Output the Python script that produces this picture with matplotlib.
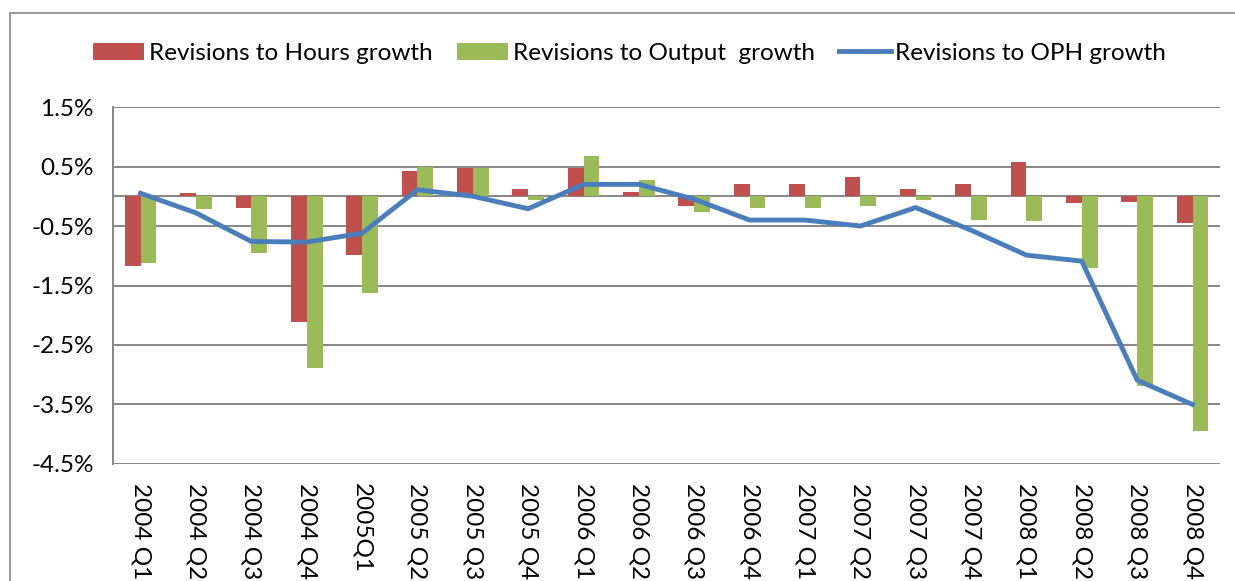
"""
Revisiones al crecimiento de horas, output y OPH (2004-2008).
"""
import matplotlib
matplotlib.use('Agg')
import matplotlib.pyplot as plt
import matplotlib.patches as patches
import numpy as np

# Datos (en %)
quarters = ['2004 Q1', '2004 Q2', '2004 Q3', '2004 Q4', '2005Q1',
            '2005 Q2', '2005 Q3', '2005 Q4', '2006 Q1', '2006 Q2',
            '2006 Q3', '2006 Q4', '2007 Q1', '2007 Q2', '2007 Q3',
            '2007 Q4', '2008 Q1', '2008 Q2', '2008 Q3', '2008 Q4']
hours_rev = [-1.17, 0.05, -0.20, -2.11, -0.99, 0.42, 0.48, 0.12, 0.48, 0.07,
             -0.17, 0.21, 0.20, 0.33, 0.12, 0.20, 0.58, -0.11, -0.10, -0.45]
output_rev = [-1.13, -0.21, -0.95, -2.88, -1.62, 0.50, 0.48, -0.07, 0.68, 0.27,
              -0.27, -0.19, -0.19, -0.16, -0.07, -0.40, -0.41, -1.20, -3.19, -3.94]
oph_rev = [0.05, -0.28, -0.76, -0.77, -0.62, 0.11, 0.00, -0.21, 0.20, 0.20,
           -0.05, -0.40, -0.40, -0.50, -0.19, -0.57, -0.99, -1.09, -3.09, -3.50]
y_ticks = [1.5, 0.5, -0.5, -1.5, -2.5, -3.5, -4.5]

# Colores
colors = {
    'hours': '#C0504D',
    'output': '#9BBB59',
    'oph': '#4A7EBB',
    'grid': '#868686',
}

plt.rcParams['font.family'] = ['Lato', 'DejaVu Sans']
fs = 17.5

fig = plt.figure(figsize=(12.35, 5.81), dpi=100)
ax = fig.add_axes([0.0915, 0.2014, 0.8965, 0.6144])

x = np.arange(len(quarters))
w = 0.285
b1 = ax.bar(x - w / 2, hours_rev, width=w, color=colors['hours'],
            label='Revisions to Hours growth', zorder=2)
b2 = ax.bar(x + w / 2, output_rev, width=w, color=colors['output'],
            label='Revisions to Output  growth', zorder=2)
l1, = ax.plot(x, oph_rev, color=colors['oph'], linewidth=3.5,
              label='Revisions to OPH growth', zorder=3, solid_joinstyle='round')

ax.set_xlim(-0.5, len(quarters) - 0.5)
ax.set_ylim(-4.5, 1.5)

# Lineas de la grilla y eje en cero
for yv in y_ticks:
    ax.axhline(yv, color=colors['grid'], linewidth=1.4, zorder=1)
ax.axhline(0, color=colors['grid'], linewidth=1.4, zorder=1)

ax.set_yticks(y_ticks)
ax.set_yticklabels([f'{v:.1f}%' for v in y_ticks], fontsize=fs)
ax.set_xticks(x)
ax.set_xticklabels(quarters, rotation=270, fontsize=fs, va='top', ha='center')
ax.tick_params(axis='both', length=0)
ax.tick_params(axis='y', pad=14)
ax.tick_params(axis='x', pad=14)

for side in ['top', 'right', 'bottom']:
    ax.spines[side].set_visible(False)
ax.spines['left'].set_color(colors['grid'])
ax.spines['left'].set_linewidth(1.4)

fig.legend([b1, b2, l1], [b1.get_label(), b2.get_label(), l1.get_label()],
           loc='center', bbox_to_anchor=(0.51, 0.908), ncol=3, frameon=False,
           fontsize=fs, handlelength=2.1, handleheight=0.7,
           handletextpad=0.2, columnspacing=1.0)

# Borde exterior del grafico
border = patches.Rectangle((9.5 / 1235, -0.05), 1.2, 1 - 13 / 581 + 0.05,
                           transform=fig.transFigure, fill=False,
                           edgecolor='#888888', linewidth=1.2)
fig.patches.append(border)

fig.savefig('out.png', dpi=100)
plt.close(fig)
